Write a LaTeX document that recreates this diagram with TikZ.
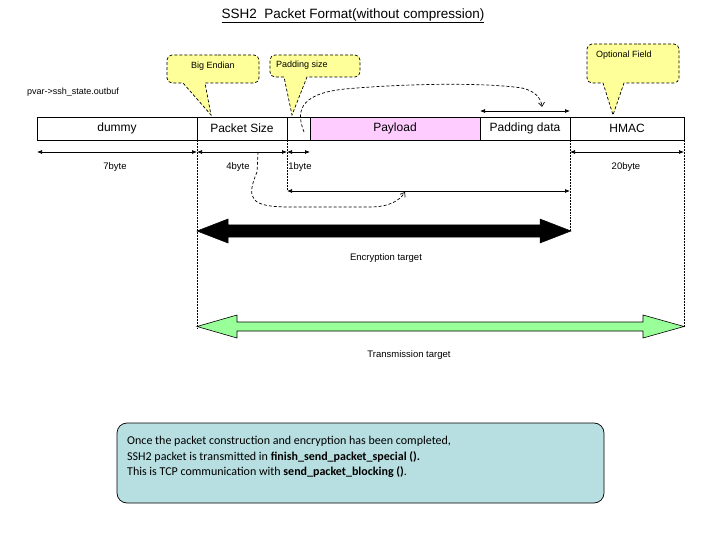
\documentclass[tikz,border=0pt]{standalone}
\usepackage{fontspec}
\setmainfont{Liberation Sans}
\newfontfamily\notefont{Carlito}
\usetikzlibrary{arrows.meta}
\definecolor{pinkfill}{RGB}{255,204,255}
\definecolor{calloutyellow}{RGB}{255,255,153}
\definecolor{greenfill}{RGB}{153,255,153}
\definecolor{notefill}{RGB}{183,222,224}
\tikzset{
  cell/.style={draw, line width=0.8pt, minimum height=23pt, inner sep=0pt, outer sep=0pt, anchor=north west, font=\fontsize{12}{14}\selectfont},
  dimline/.style={line width=0.7pt, {Latex[length=5pt,width=4pt]}-{Latex[length=5pt,width=4pt]}},
  guide/.style={line width=0.5pt, densely dotted},
  dashcurve/.style={line width=0.7pt, dash pattern=on 3pt off 2pt, -{Straight Barb[length=4pt,width=6pt]}},
  small/.style={font=\fontsize{9.5}{11}\selectfont, inner sep=0pt},
  callouttext/.style={font=\fontsize{9}{10}\selectfont, inner sep=0pt},
  callout/.style={draw, line width=0.7pt, dash pattern=on 3pt off 2pt, fill=calloutyellow},
}
\begin{document}
\begin{tikzpicture}[x=1pt,y=-1pt]
\useasboundingbox (0,0) rectangle (720,540);

% title
\node[font=\fontsize{13.5}{15}\selectfont, inner sep=0pt] (title) at (353,16) {\underline{SSH2\ \ Packet Format(without compression)}};
\node[font=\fontsize{9}{10}\selectfont, inner sep=0pt, anchor=west] (outbuf) at (27,92) {pvar->ssh\_state.outbuf};

% callouts
\draw[callout] (213,55) [rounded corners=5pt] -- (259,55) -- (259,83) [sharp corners] -- (205,83) -- (211,115) -- (183,83) [rounded corners=5pt] -- (167,83) -- (167,55) -- cycle;
\node[callouttext] (be) at (213,66) {Big Endian};
\draw[callout] (315,55) [rounded corners=5pt] -- (360,55) -- (360,77) [sharp corners] -- (307,77) -- (292,115) -- (284,77) [rounded corners=5pt] -- (270,77) -- (270,55) -- cycle;
\node[callouttext, anchor=west] (ps) at (276,65) {Padding size};
\draw[callout] (633,44) [rounded corners=5pt] -- (679,44) -- (679,83) [sharp corners] -- (624,83) -- (613,115) -- (603,83) [rounded corners=5pt] -- (587,83) -- (587,44) -- cycle;
\node[callouttext, anchor=west] (of) at (596,55) {Optional Field};

% packet cells
\node[cell, minimum width=160pt] (dummy) at (37,117) {dummy};
\node[cell, minimum width=90pt] (psize) at (197,117) {Packet Size};
\node[cell, minimum width=23pt] (pad) at (287,117) {};
\node[cell, minimum width=170pt, fill=pinkfill] (payload) at (310,117) {Payload};
\node[cell, minimum width=90pt] (pdata) at (480,117) {Padding data};
\node[cell, minimum width=114pt] (hmac) at (570,117) {HMAC};

% coordinates
\coordinate (d0) at (37,152);
\coordinate (d1) at (197,152);
\coordinate (d2) at (287,152);
\coordinate (d3) at (310,152);
\coordinate (d4) at (570,152);
\coordinate (d5) at (684,152);
\coordinate (e1) at (287,191);
\coordinate (e2) at (570,191);
\coordinate (p1) at (480,111);
\coordinate (p2) at (570,111);

% guides
\draw[guide] (psize.south west) -- (197,328);
\draw[guide] (pad.south west) -- (e1);
\draw[guide] (pdata.south east) -- (570,231);
\draw[guide] (hmac.south east) -- (684,327);

% dimension arrows
\draw[dimline] (d0) -- (d1);
\draw[dimline] (d1) -- (d2);
\draw[dimline] (d2) -- (d3);
\draw[dimline] (d4) -- (d5);
\draw[dimline] (e1) -- (e2);
\draw[dimline] (p1) -- (p2);

\node[small] (b7) at (115,167) {7byte};
\node[small] (b4) at (238,167) {4byte};
\node[small] (b1) at (300,167) {1byte};
\node[small] (b20) at (626,167) {20byte};

% dashed curves
\draw[dashcurve] (304,132) .. controls (297,114) and (296,94) .. (345,89) .. controls (400,84) and (480,82) .. (522,88) .. controls (535,91) and (541,98) .. (542,107);
\draw[dashcurve] (258,152) -- (257,172) .. controls (245,200) and (252,207) .. (290,207) -- (370,207) .. controls (390,207) and (400,200) .. (405,192);

% big arrows
\draw[fill=black, line width=0.5pt] (197,231) -- (228,219) -- (228,225) -- (540,225) -- (540,219) -- (571,231) -- (540,243) -- (540,237) -- (228,237) -- (228,243) -- cycle;
\node[small] (enc) at (386,258) {Encryption target};
\draw[fill=greenfill, line width=0.6pt] (197,326.5) -- (237,315) -- (237,322) -- (643,322) -- (643,315) -- (684,326.5) -- (643,338) -- (643,331) -- (237,331) -- (237,338) -- cycle;
\node[small] (trans) at (409,355) {Transmission target};

% note
\draw[fill=notefill, line width=0.7pt, rounded corners=10pt] (117,423) rectangle (604,503);
\node[anchor=north west, inner sep=0pt, align=left, font=\notefont\fontsize{12}{15.5}\selectfont] (note) at (127,436)
{Once the packet construction and encryption has been completed,\\
SSH2 packet is transmitted in \textbf{finish\_send\_packet\_special ().}\\
This is TCP communication with \textbf{send\_packet\_blocking ()}.};
\end{tikzpicture}
\end{document}
